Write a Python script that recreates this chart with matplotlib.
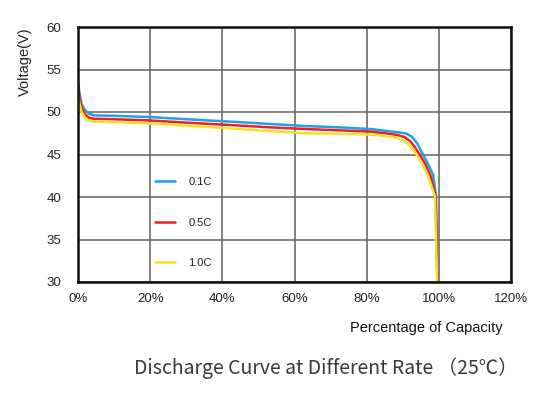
import matplotlib
matplotlib.use("Agg")
import matplotlib.pyplot as plt

plt.rcParams['font.family'] = ['Liberation Sans', 'DejaVu Sans']

# percentage of capacity (%) and voltage (V) for each rate
x_01c = [0, 0.4, 1, 2, 3, 4.5, 10, 20, 30, 43, 53, 63, 72, 81, 86, 89, 91, 92.5, 94, 95.6, 97, 98.4, 99.2, 99.6]
v_01c = [53.7, 52.2, 50.9, 50.2, 49.8, 49.6, 49.55, 49.4, 49.15, 48.85, 48.6, 48.35, 48.2, 48.0, 47.75, 47.6, 47.45, 47.1, 46.3, 45.0, 43.9, 42.6, 40.2, 30.3]

x_05c = [0, 0.4, 1, 2, 3, 4.5, 10, 20, 30, 43, 53, 63, 72, 81, 86, 88.5, 90.5, 92, 93.3, 94.7, 96.2, 97.7, 99.1, 99.6]
v_05c = [53.0, 51.8, 50.5, 49.7, 49.35, 49.2, 49.15, 49.0, 48.75, 48.45, 48.2, 48.0, 47.85, 47.7, 47.45, 47.3, 47.05, 46.6, 45.9, 45.0, 43.9, 42.5, 40.1, 30.3]

x_10c = [0, 0.4, 1, 2, 3, 4.5, 10, 20, 30, 43, 53, 63, 72, 81, 85.5, 88, 90, 91.3, 92.6, 93.8, 95.4, 97, 98.9, 99.5]
v_10c = [52.0, 51.0, 50.0, 49.3, 49.0, 48.85, 48.8, 48.65, 48.4, 48.05, 47.75, 47.5, 47.45, 47.35, 47.15, 47.0, 46.7, 46.3, 45.7, 45.0, 43.9, 42.5, 40.1, 30.3]

labels = ['0.1C', '0.5C', '1.0C']
colors = ['#1ea3e3', '#ee1d2c', '#f2e324']

x_ticks = [0, 20, 40, 60, 80, 100, 120]
x_ticklabels = ['0%', '20%', '40%', '60%', '80%', '100%', '120%']
y_ticks = [30, 35, 40, 45, 50, 55, 60]

fig = plt.figure(figsize=(5.5, 3.97), dpi=100)
ax = fig.add_axes([78 / 550, 1 - 282 / 397, (511 - 78) / 550, (282 - 27) / 397])

series = [(x_01c, v_01c), (x_05c, v_05c), (x_10c, v_10c)]
for (xs, vs), lab, c in zip(series, labels, colors):
    ax.plot(xs, vs, color=c, lw=1.8, label=lab, solid_capstyle='round', solid_joinstyle='round')

ax.set_xlim(0, 120)
ax.set_ylim(30, 60)
ax.set_xticks(x_ticks)
ax.set_xticklabels(x_ticklabels)
ax.set_yticks(y_ticks)
ax.tick_params(length=0, labelsize=9.5, colors='#222222')
ax.tick_params(axis='y', pad=12)
ax.tick_params(axis='x', pad=8)
ax.grid(True, color='#6f6b69', lw=1.2)
ax.set_axisbelow(True)
for s in ax.spines.values():
    s.set_linewidth(1.8)
    s.set_color('#111111')

leg = ax.legend(loc='upper left', bbox_to_anchor=(0.155, 0.45), frameon=False,
                fontsize=8, handlelength=1.8, handletextpad=1.2, labelspacing=2.75)
for t in leg.get_texts():
    t.set_color('#222222')

fig.text(25 / 550, 1 - 62 / 397, 'Voltage(V)', rotation=90, ha='center', va='center',
         fontsize=10.5, color='#222222')
fig.text(426 / 550, 1 - 328 / 397, 'Percentage of Capacity', ha='center', va='center',
         fontsize=10.5, color='#111111')
fig.text(326 / 550, 1 - 368 / 397, 'Discharge Curve at Different Rate （25℃）', ha='center', va='center',
         fontsize=14, color='#3a3a3a', family=['Noto Sans CJK SC', 'DejaVu Sans'])

fig.savefig('out.png', dpi=100)
